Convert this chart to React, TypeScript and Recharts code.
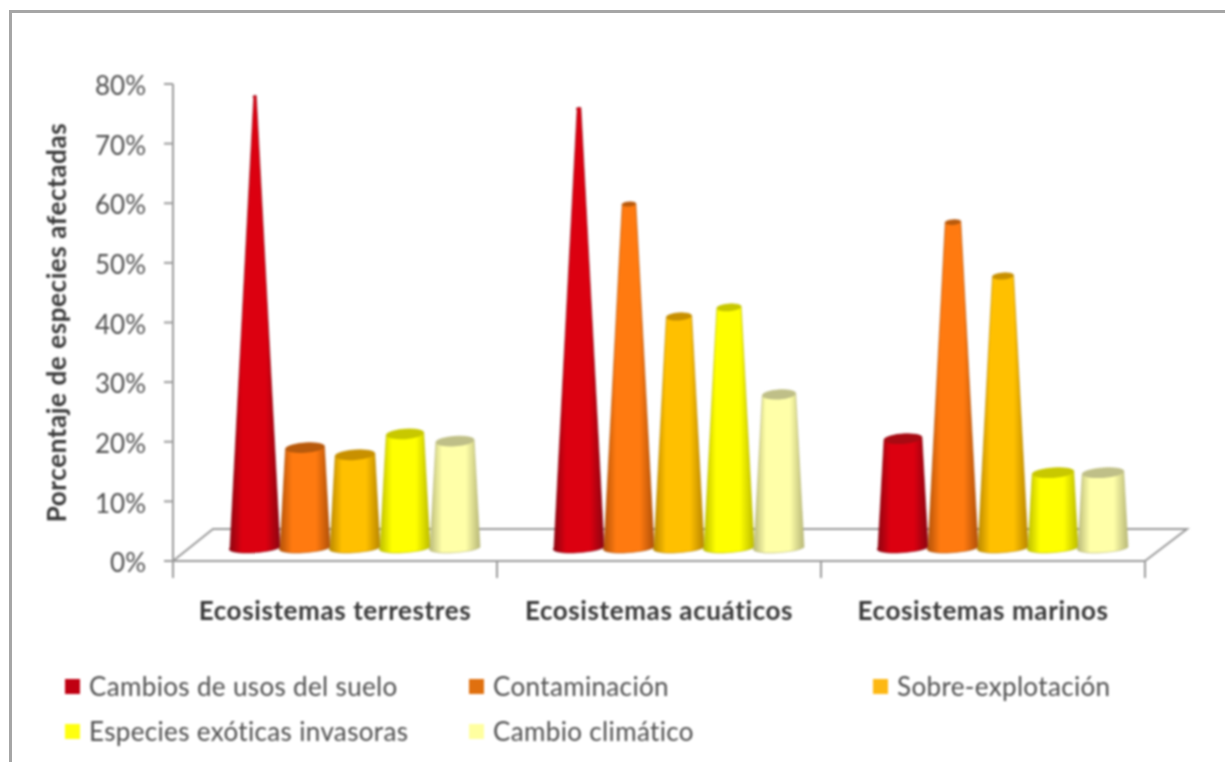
import React from "react";
import { BarChart, Bar, XAxis, YAxis, Customized, Legend } from "recharts";

const categories = ["Ecosistemas terrestres", "Ecosistemas acuáticos", "Ecosistemas marinos"];
const seriesNames = [
  "Cambios de usos del suelo",
  "Contaminación",
  "Sobre-explotación",
  "Especies exóticas invasoras",
  "Cambio climático",
];
const cambiosUsos = [76, 74, 19.3];
const contaminacion = [17.8, 58.2, 55.2];
const sobreExplotacion = [16.6, 39.6, 46.3];
const especiesExoticas = [20.1, 41.1, 13.6];
const cambioClimatico = [18.9, 26.7, 13.6];
const seriesValues = [cambiosUsos, contaminacion, sobreExplotacion, especiesExoticas, cambioClimatico];
const yTicks = [0, 10, 20, 30, 40, 50, 60, 70, 80];

const palette = [
  { edge: "#8a0410", mid: "#dc0010", cap: "#a80a12", legend: "#c00012" },
  { edge: "#b05008", mid: "#ff7a10", cap: "#b85a0c", legend: "#e0700f" },
  { edge: "#b88600", mid: "#ffc000", cap: "#c89000", legend: "#fdb813" },
  { edge: "#bcbc00", mid: "#ffff00", cap: "#c8c800", legend: "#ffff10" },
  { edge: "#b8b878", mid: "#ffffa8", cap: "#bfbf88", legend: "#ffffa0" },
];

const W = 1225;
const H = 762;
const X_AXIS_H = 60;
const M = { top: 84, right: 80, bottom: 201 - X_AXIS_H, left: 0 };
const AXIS_W = 173;
const PLOT_H = H - M.top - M.bottom - X_AXIS_H;
const BAND = (W - AXIS_W - M.right) / categories.length;
const DEPTH_X = 40;
const DEPTH_Y = 32;
const OFFSET_X = 20;
const OFFSET_Y = 12;
const APEX = 80;
const GREY = "#9a9a9a";

const data = categories.map((name, i) => {
  const row: Record<string, string | number> = { name };
  seriesNames.forEach((s, j) => (row[s] = seriesValues[j][i]));
  return row;
});

function Cone(props: any) {
  const { x, y, width, height } = props;
  const idx = props.seriesIndex;
  const cx = x + width / 2 + OFFSET_X;
  const base = y + height - OFFSET_Y;
  const top = y - OFFSET_Y;
  const full = (PLOT_H * APEX) / 80;
  const tw = (width * (1 - height / full)) / 2;
  const bw = width / 2;
  const ry = Math.min(5, 0.5 + tw * 0.26);
  const capY = top + ry;
  const d = `M${cx - bw},${base - 1} A${bw},5 -4 0 0 ${cx + bw},${base - 2} L${cx + tw},${capY - 1} A${tw},${ry} -4 0 0 ${cx - tw},${capY + 1} Z`;
  return (
    <g>
      <path
        d={d}
        fill={`url(#cone${idx})`}
        stroke={palette[idx].edge}
        strokeOpacity={0.55}
        strokeWidth={1.2}
        strokeLinejoin="round"
      />
      {tw > 3 && (
        <ellipse cx={cx} cy={capY} rx={tw} ry={ry} fill={palette[idx].cap} transform={`rotate(-4 ${cx} ${capY})`} />
      )}
    </g>
  );
}

function Floor() {
  const x0 = AXIS_W;
  const x1 = W - M.right;
  const y0 = H - 201;
  const d = `M${x0},${y0} L${x0 + DEPTH_X},${y0 - DEPTH_Y} L${x1 + DEPTH_X + 2},${y0 - DEPTH_Y} L${x1},${y0}`;
  return <path d={d} fill="none" stroke={GREY} strokeWidth={2} />;
}

function CategoryTick(props: any) {
  const { x, y, payload, index } = props;
  const left = x - BAND / 2;
  return (
    <g>
      <line x1={left} x2={left} y1={y - 8} y2={y + 9} stroke={GREY} strokeWidth={2} />
      {index === categories.length - 1 && (
        <line x1={x + BAND / 2} x2={x + BAND / 2} y1={y - 8} y2={y + 9} stroke={GREY} strokeWidth={2} />
      )}
      <text
        x={x}
        y={y + 51}
        textAnchor="middle"
        fontFamily="Lato"
        fontWeight={700}
        fontSize={26}
        letterSpacing={0.6}
        fill="#383838"
      >
        {payload.value}
      </text>
    </g>
  );
}

const legendCols = [65, 469, 873];
const legendRows = [686, 731];

function LegendContent() {
  return (
    <div style={{ position: "relative", width: W, height: 0 }}>
      {seriesNames.map((name, i) => {
        const col = legendCols[i % 3];
        const row = legendRows[Math.floor(i / 3)];
        return (
          <React.Fragment key={name}>
            <div
              style={{
                position: "absolute",
                left: col,
                top: row - 7,
                width: 15,
                height: 15,
                background: palette[i].legend,
              }}
            />
            <div
              style={{
                position: "absolute",
                left: col + 24,
                top: row - 16,
                height: 32,
                lineHeight: "32px",
                whiteSpace: "nowrap",
                fontFamily: "Lato",
                fontSize: 26,
                letterSpacing: 0.35,
                color: "#4f4f4f",
              }}
            >
              {name}
            </div>
          </React.Fragment>
        );
      })}
    </div>
  );
}

export default function App() {
  return (
    <div style={{ position: "absolute", left: 0, top: 0, width: W, height: H, overflow: "hidden", background: "#fff" }}>
      <div
        style={{
          position: "absolute",
          left: 9,
          top: 10,
          right: -10,
          bottom: -10,
          border: "3px solid #a6a6a6",
          filter: "blur(0.6px)",
        }}
      />
      <div style={{ position: "absolute", left: 0, top: 0, filter: "blur(0.9px)" }}>
        <BarChart width={W} height={H} data={data} margin={M} barSize={50} barGap={0}>
          <defs>
            {palette.map((p, i) => (
              <linearGradient key={i} id={`cone${i}`} x1="0" x2="1" y1="0" y2="0">
                <stop offset="0" stopColor={p.edge} />
                <stop offset="0.25" stopColor={p.mid} />
                <stop offset="0.72" stopColor={p.mid} />
                <stop offset="1" stopColor={p.edge} />
              </linearGradient>
            ))}
          </defs>
          <Customized component={Floor} />
          <XAxis
            dataKey="name"
            height={X_AXIS_H}
            axisLine={{ stroke: GREY, strokeWidth: 2 }}
            tickLine={false}
            tick={<CategoryTick />}
            interval={0}
          />
          <YAxis
            width={AXIS_W}
            domain={[0, 80]}
            ticks={yTicks}
            interval={0}
            axisLine={{ stroke: GREY, strokeWidth: 2 }}
            tickLine={{ stroke: GREY, strokeWidth: 2 }}
            tickSize={9}
            tickMargin={18}
            tickFormatter={(v: number) => `${v}%`}
            tick={{ fontFamily: "Lato", fontSize: 26, fill: "#4f4f4f", dy: 2 }}
            label={{
              value: "Porcentaje de especies afectadas",
              angle: -90,
              position: "insideLeft",
              dx: 52,
              dy: 0,
              style: {
                fontFamily: "Lato",
                fontWeight: 700,
                fontSize: 26,
                letterSpacing: 0.6,
                fill: "#383838",
                textAnchor: "middle",
              },
            }}
          />
          {seriesNames.map((s, i) => (
            <Bar
              key={s}
              dataKey={s}
              isAnimationActive={false}
              fill={palette[i].legend}
              shape={(p: any) => <Cone {...p} seriesIndex={i} />}
            />
          ))}
          <Legend
            content={<LegendContent />}
            wrapperStyle={{ position: "absolute", left: 0, top: 0, width: W, height: 0, bottom: "auto" }}
          />
        </BarChart>
      </div>
    </div>
  );
}
